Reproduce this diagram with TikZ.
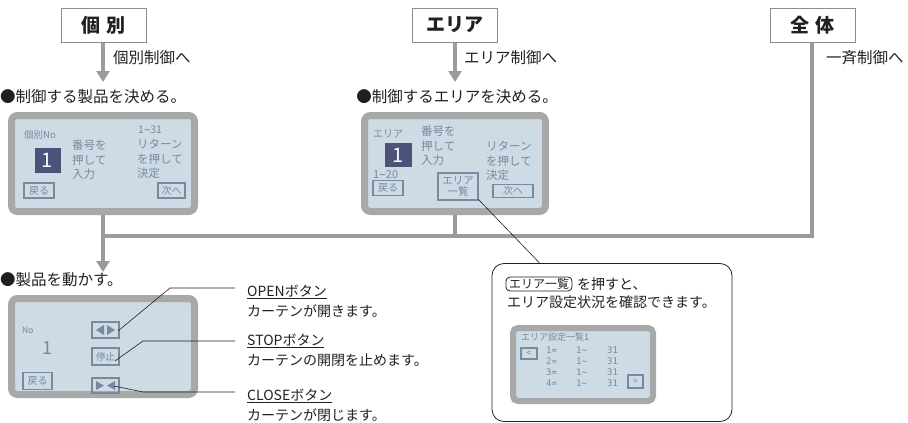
\documentclass[tikz,border=0pt]{standalone}
\usepackage{fontspec}
\setmainfont{Noto Sans CJK JP}
\newfontfamily\monof{DejaVu Sans Mono}
\newcommand{\wave}{{\monof\textasciitilde}}
\usetikzlibrary{arrows.meta}
\definecolor{conngray}{HTML}{9B9B9B}
\definecolor{boxgray}{HTML}{8C8C8C}
\definecolor{lcdframe}{HTML}{A8A8A8}
\definecolor{lcdfill}{HTML}{CCDBE4}
\definecolor{lcdtext}{HTML}{7A88A2}
\definecolor{lcddark}{HTML}{4D5279}
\definecolor{ink}{HTML}{231F20}
\begin{document}
\begin{tikzpicture}[x=1pt,y=-1pt,
 topbox/.style={draw=boxgray,line width=1pt,fill=white,minimum width=85pt,minimum height=34pt,inner sep=0pt,text=ink,font=\fontsize{19}{19}\selectfont\bfseries},
 conn/.style={draw=conngray,line width=4pt},
 tip/.style={-{Triangle[width=13pt,length=11pt]}},
 lbl/.style={font=\fontsize{15.5}{16}\selectfont,anchor=west,inner sep=0pt,text=ink},
 lcd/.style={draw=lcdframe,line width=7pt,fill=lcdfill,rounded corners=6pt,inner sep=0pt},
 lcdtxt/.style={text=lcdtext,inner sep=0pt,anchor=west,font=\fontsize{11.5}{14.5}\selectfont,align=left},
 lcdbtn/.style={draw=lcdtext,line width=1.2pt,text=lcdtext,inner sep=0pt,font=\fontsize{10}{11}\selectfont,align=center},
 leader/.style={draw=ink,line width=0.6pt},
 desc/.style={font=\fontsize{14}{15}\selectfont,anchor=west,inner sep=0pt,text=ink},
 lcdtri/.style={fill=lcdtext},
]
\useasboundingbox (0,0) rectangle (908,423);

% top selection boxes
\node[topbox] (kobetsu) at (103.5,25) {個\hspace{0.3em}別};
\node[topbox] (area) at (455,25) {エリア};
\node[topbox] (zentai) at (812.5,25) {全\hspace{0.3em}体};

\coordinate (t1) at (103,82);
\coordinate (t2) at (455,82);
\coordinate (t3) at (103,272);
\coordinate (j1) at (103,236);
\coordinate (j2) at (455,236);
\coordinate (jz) at (812,236);

\draw[conn,tip] (kobetsu.south -| t1) -- (t1);
\draw[conn,tip] (area.south) -- (t2);

\node[lbl] (l1) at (113,58) {個別制御へ};
\node[lbl] (l2) at (464,58) {エリア制御へ};
\node[lbl] (l3) at (826,58) {一斉制御へ};

\node[lbl] (h1) at (0,97) {●制御する製品を決める。};
\node[lbl,anchor=east] (h2) at (558,97) {●制御するエリアを決める。};

% LCD 1
\node[lcd,minimum width=183pt,minimum height=96pt] (lcd1) at (103,163.5) {};
\node[lcdtxt,font=\fontsize{9.5}{10}\selectfont] (s1a) at (24,135) {個別No};
\node[fill=lcddark,minimum width=26pt,minimum height=25pt,inner sep=0pt,text=white,font=\fontsize{20}{20}\selectfont] (s1b) at (47.5,160) {1};
\node[lcdtxt,anchor=north west] (s1c) at (72,140) {番号を\\押して\\入力};
\node[lcdtxt,font=\fontsize{10.5}{10.5}\selectfont] (s1d) at (138,129.5) {1\wave31};
\node[lcdtxt,anchor=north west] (s1e) at (137,139) {リターン\\を押して\\決定};
\node[lcdbtn,minimum width=30pt,minimum height=15pt] (s1f) at (39,190.5) {戻る};
\node[lcdbtn,minimum width=27pt,minimum height=15pt] (s1g) at (171.5,190.5) {次へ};

% LCD 2
\node[lcd,minimum width=181pt,minimum height=96pt] (lcd2) at (455,163.5) {};
\node[lcdtxt,font=\fontsize{10}{10}\selectfont] (s2a) at (373,134) {エリア};
\node[fill=lcddark,minimum width=27pt,minimum height=24pt,inner sep=0pt,text=white,font=\fontsize{20}{20}\selectfont] (s2b) at (398.5,155) {1};
\node[lcdtxt,font=\fontsize{11}{11}\selectfont] (s2c) at (373,175) {1\wave20};
\node[lcdbtn,minimum width=30pt,minimum height=15pt] (s2d) at (388,188) {戻る};
\node[lcdtxt,anchor=north west] (s2e) at (421,126) {番号を\\押して\\入力};
\node[lcdtxt,anchor=north west] (s2f) at (486,141) {リターン\\を押して\\決定};
\node[lcdbtn,minimum width=40pt,minimum height=27pt,font=\fontsize{10.5}{11}\selectfont] (s2g) at (458,186.5) {エリア\\一覧};
\node[lcdbtn,minimum width=40pt,minimum height=13pt] (s2h) at (513,191) {次へ};

% main connectors
\draw[conn] (lcd1.south) -- (j1);
\draw[conn] (lcd2.south) -- (j2);
\draw[conn] (zentai.south -| jz) -- (jz) -- (j1);
\draw[conn,tip] (j1) -- (t3);

% LCD 3
\node[lbl] (h3) at (0,280) {●製品を動かす。};
\node[lcd,minimum width=183pt,minimum height=96pt] (lcd3) at (103,346.5) {};
\node[lcdtxt,font=\fontsize{8.5}{9}\selectfont] (s3a) at (22,330) {No};
\node[lcdtxt,font=\fontsize{18}{18}\selectfont] (s3b) at (42,348) {1};
\node[lcdbtn,minimum width=29pt,minimum height=17pt] (s3c) at (37.5,381) {戻る};
\node[lcdbtn,minimum width=27pt,minimum height=16pt] (bopen) at (105.5,330) {};
\node[lcdbtn,minimum width=27pt,minimum height=17pt,font=\fontsize{9.5}{10}\selectfont] (bstop) at (105.5,356.5) {停止};
\node[lcdbtn,minimum width=27pt,minimum height=15pt] (bclose) at (105.5,385.5) {};
\fill[lcdtri] (96,330) -- (104,325) -- (104,335) -- cycle;
\fill[lcdtri] (115,330) -- (107,325) -- (107,335) -- cycle;
\fill[lcdtri] (104,385.5) -- (96,381) -- (96,390) -- cycle;
\fill[lcdtri] (107,385.5) -- (115,381) -- (115,390) -- cycle;

% leaders and descriptions
\coordinate (e1) at (235,288);
\coordinate (e2) at (235,341);
\coordinate (e3) at (235,392);
\draw[leader] (118,331) -- (170,288) -- (e1);
\draw[leader] (115,361) -- (143,341) -- (e2);
\draw[leader] (114,386) -- (143,392) -- (e3);
\node[desc] (d1) at (247,292) {\underline{OPENボタン}};
\node[desc] (d1b) at (247,311) {カーテンが開きます。};
\node[desc] (d2) at (247,341) {\underline{STOPボタン}};
\node[desc] (d2b) at (247,360) {カーテンの開閉を止めます。};
\node[desc] (d3) at (247,396) {\underline{CLOSEボタン}};
\node[desc] (d3b) at (247,415) {カーテンが閉じます。};

% callout
\node[draw=ink,line width=0.8pt,rounded corners=12pt,minimum width=240pt,minimum height=158pt,inner sep=0pt] (callout) at (612,342.5) {};
\coordinate (cp) at (540,263.5);
\draw[leader] (478,199) -- (cp);
\node[draw=ink,line width=0.8pt,rounded corners=4pt,inner xsep=3pt,inner ysep=0pt,minimum height=14pt,font=\fontsize{12}{12}\selectfont,text=ink] (kb) at (539,284) {エリア一覧};
\node[desc] (c1) at (577,284) {を押すと、};
\node[desc] (c2) at (507,302) {エリア設定状況を確認できます。};
\node[lcd,line width=6pt,rounded corners=5pt,minimum width=140pt,minimum height=73pt] (lcd4) at (583,364.5) {};
\node[lcdtxt,font=\fontsize{9}{9}\selectfont] (s4a) at (521,337) {エリア設定一覧1};
\node[lcdbtn,minimum width=16pt,minimum height=11pt,font=\monof\fontsize{8}{8}\selectfont] (s4b) at (529,353.5) {<};
\node[lcdbtn,minimum width=15pt,minimum height=13pt,font=\monof\fontsize{8}{8}\selectfont] (s4c) at (635.5,381.5) {>};
\node[lcdtxt,anchor=north west,font=\monof\fontsize{9}{11}\selectfont] (s4d) at (546,347) {1=\\2=\\3=\\4=};
\node[lcdtxt,anchor=north west,font=\monof\fontsize{9}{11}\selectfont] (s4e) at (576,347) {1\textasciitilde\\1\textasciitilde\\1\textasciitilde\\1\textasciitilde};
\node[lcdtxt,anchor=north west,font=\monof\fontsize{9}{11}\selectfont] (s4f) at (607,347) {31\\31\\31\\31};
\end{tikzpicture}
\end{document}
